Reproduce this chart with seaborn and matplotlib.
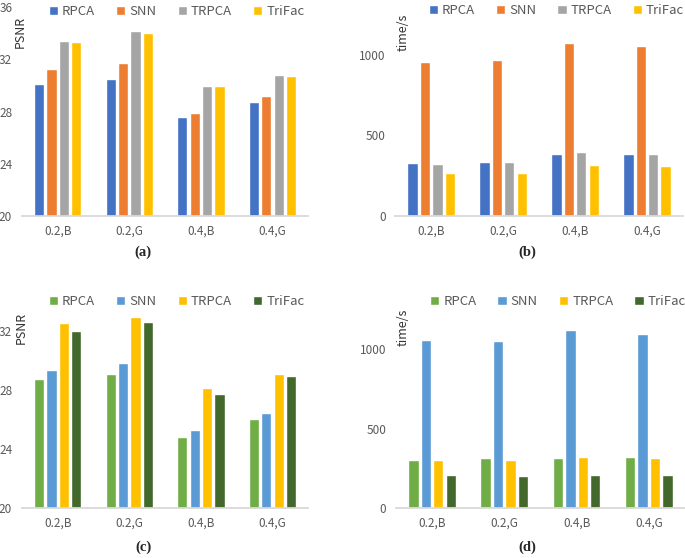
import pandas as pd
import matplotlib
matplotlib.use("Agg")
from matplotlib import pyplot as plt
import seaborn as sns

conditions = ['0.2,B', '0.2,G', '0.4,B', '0.4,G']
methods = ['RPCA', 'SNN', 'TRPCA', 'TriFac']

# (a) PSNR, first dataset
psnr_a = {
    'RPCA':   [30.15, 30.5, 27.6, 28.7],
    'SNN':    [31.3, 31.7, 27.9, 29.2],
    'TRPCA':  [33.4, 34.2, 30.0, 30.8],
    'TriFac': [33.3, 34.0, 30.0, 30.7],
}
# (b) time, first dataset
time_b = {
    'RPCA':   [330, 338, 386, 382],
    'SNN':    [954, 969, 1075, 1058],
    'TRPCA':  [324, 332, 396, 384],
    'TriFac': [264, 264, 315, 313],
}
# (c) PSNR, second dataset
psnr_c = {
    'RPCA':   [28.7, 29.05, 24.8, 26.0],
    'SNN':    [29.3, 29.8, 25.3, 26.4],
    'TRPCA':  [32.5, 32.9, 28.1, 29.05],
    'TriFac': [32.0, 32.6, 27.7, 28.9],
}
# (d) time, second dataset
time_d = {
    'RPCA':   [303, 314, 314, 320],
    'SNN':    [1057, 1053, 1122, 1095],
    'TRPCA':  [303, 303, 320, 312],
    'TriFac': [206, 204, 208, 208],
}

colors_top = ['#4472C4', '#ED7D31', '#A5A5A5', '#FFC000']
colors_bottom = ['#70AD47', '#5B9BD5', '#FFC000', '#43682B']

GRAY = '#595959'


def to_long(values):
    rows = []
    for m in methods:
        for c, v in zip(conditions, values[m]):
            rows.append({'cond': c, 'method': m, 'value': v})
    return pd.DataFrame(rows)


def draw_panel(fig, rect, values, palette, ylim, yticks, ylabel, ylab_pos,
               tag, tag_pos, leg_anchor):
    ax = fig.add_axes(rect)
    df = to_long(values)
    sns.barplot(data=df, x='cond', y='value', hue='method', palette=palette,
                width=0.69, gap=0.17, saturation=1, ax=ax)
    ax.set_ylim(*ylim)
    ax.set_yticks(yticks)
    ax.set_xlabel('')
    ax.set_ylabel('')
    for s in ['top', 'right', 'left']:
        ax.spines[s].set_visible(False)
    ax.spines['bottom'].set_color('#D9D9D9')
    ax.spines['bottom'].set_linewidth(1.3)
    ax.tick_params(length=0, labelsize=8.5, labelcolor=GRAY)
    ax.tick_params(axis='y', pad=7)
    ax.tick_params(axis='x', pad=6)
    ax.text(ylab_pos[0], ylab_pos[1], ylabel, transform=ax.transAxes,
            rotation=90, ha='center', va='center', fontsize=9, color='#333333')
    handles, labels = ax.get_legend_handles_labels()
    ax.legend(handles, labels, loc='upper center', bbox_to_anchor=leg_anchor,
              ncol=4, frameon=False, fontsize=9.5, labelcolor=GRAY,
              handlelength=0.7, handleheight=0.7, handletextpad=0.3,
              columnspacing=1.6, borderaxespad=0)
    fig.text(tag_pos[0], tag_pos[1], tag, ha='center', va='center',
             fontsize=10.5, fontweight='bold', family='Liberation Serif')
    return ax


def main():
    sns.set_style('white')
    plt.rcParams['font.family'] = ['Noto Sans CJK SC', 'DejaVu Sans']

    fig = plt.figure(figsize=(6.85, 5.58), dpi=100)

    draw_panel(fig, [0.032, 0.613, 0.418, 0.374], psnr_a, colors_top,
               (20, 36), [20, 24, 28, 32, 36], 'PSNR', (-0.005, 0.88),
               '(a)', (143 / 685, 1 - 252 / 558), (0.54, 1.035))
    draw_panel(fig, [0.577, 0.613, 0.420, 0.378], time_b, colors_top,
               (0, 1310), [0, 500, 1000], 'time/s', (0.028, 0.87),
               '(b)', (527 / 685, 1 - 252 / 558), (0.56, 1.03))
    draw_panel(fig, [0.032, 0.0896, 0.418, 0.391], psnr_c, colors_bottom,
               (20, 34.75), [20, 24, 28, 32], 'PSNR', (-0.003, 0.826),
               '(c)', (143 / 685, 1 - 547 / 558), (0.54, 1.0))
    draw_panel(fig, [0.578, 0.0896, 0.422, 0.391], time_d, colors_bottom,
               (0, 1374), [0, 500, 1000], 'time/s', (0.024, 0.83),
               '(d)', (527 / 685, 1 - 547 / 558), (0.56, 1.0))

    fig.savefig('out.png', dpi=100)


if __name__ == "__main__":
    main()
